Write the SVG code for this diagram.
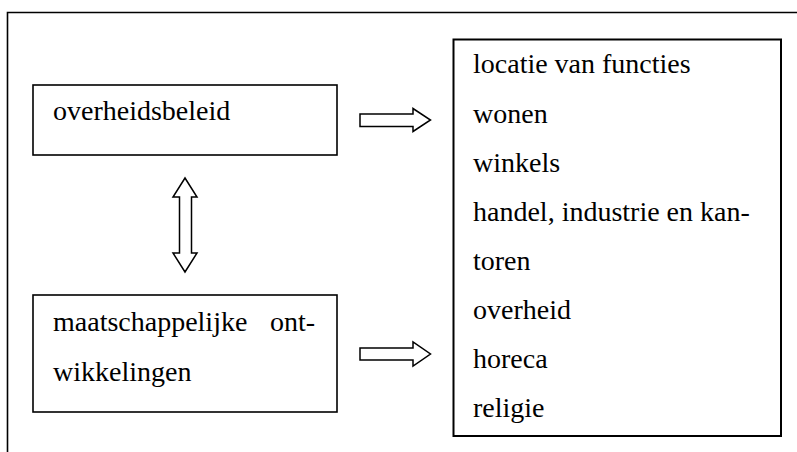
<svg xmlns="http://www.w3.org/2000/svg" width="797" height="452" viewBox="0 0 797 452">
<style>
.box{fill:#fff;stroke:#000;stroke-width:1.6}
.arrow{fill:#fff;stroke:#000;stroke-width:1.5;stroke-linejoin:miter}
</style>
<rect width="797" height="452" fill="#fff"/>
<g id="frame">
<path d="M7.5,452 V12.5 H797" fill="none" stroke="#000" stroke-width="1.6"/>
</g>
<g id="overheidsbeleid">
<rect class="box" x="33" y="85" width="304" height="70"/>
<text x="53" y="120" font-family="Liberation Serif" font-size="28" style="font-family:'Liberation Serif',serif !important;font-size:28px">overheidsbeleid</text>
</g>
<g id="maatschappelijke">
<rect class="box" x="33" y="295" width="304" height="117"/>
<text x="53" y="331" font-family="Liberation Serif" font-size="28" style="font-family:'Liberation Serif',serif !important;font-size:28px">maatschappelijke</text>
<text x="315" y="331" text-anchor="end" font-family="Liberation Serif" font-size="28" style="font-family:'Liberation Serif',serif !important;font-size:28px">ont-</text>
<text x="53" y="381" font-family="Liberation Serif" font-size="28" style="font-family:'Liberation Serif',serif !important;font-size:28px">wikkelingen</text>
</g>
<g id="functies">
<rect class="box" x="453.5" y="39.5" width="327.5" height="396.5" stroke-width="2" style="stroke-width:2"/>
<text x="473" y="73" font-family="Liberation Serif" font-size="28" style="font-family:'Liberation Serif',serif !important;font-size:28px">locatie van functies</text>
<text x="473" y="123" font-family="Liberation Serif" font-size="28" style="font-family:'Liberation Serif',serif !important;font-size:28px">wonen</text>
<text x="473" y="172" font-family="Liberation Serif" font-size="28" style="font-family:'Liberation Serif',serif !important;font-size:28px">winkels</text>
<text x="473" y="221" font-family="Liberation Serif" font-size="28" style="font-family:'Liberation Serif',serif !important;font-size:28px">handel, industrie en kan-</text>
<text x="473" y="270" font-family="Liberation Serif" font-size="28" style="font-family:'Liberation Serif',serif !important;font-size:28px">toren</text>
<text x="473" y="319" font-family="Liberation Serif" font-size="28" style="font-family:'Liberation Serif',serif !important;font-size:28px">overheid</text>
<text x="473" y="368" font-family="Liberation Serif" font-size="28" style="font-family:'Liberation Serif',serif !important;font-size:28px">horeca</text>
<text x="473" y="417" font-family="Liberation Serif" font-size="28" style="font-family:'Liberation Serif',serif !important;font-size:28px">religie</text>
</g>
<g id="connectors">
<path class="arrow" d="M360,114 H413 V108.5 L430.5,120 L413,131.5 V126.5 H360 Z"/>
<path class="arrow" d="M360,348 H413 V342 L430.5,354 L413,366 V360 H360 Z"/>
<path class="arrow" d="M185,178 L197,197 H191.5 V253 H197 L185,272 L173,253 H179.5 V197 H173 Z"/>
</g>
</svg>
